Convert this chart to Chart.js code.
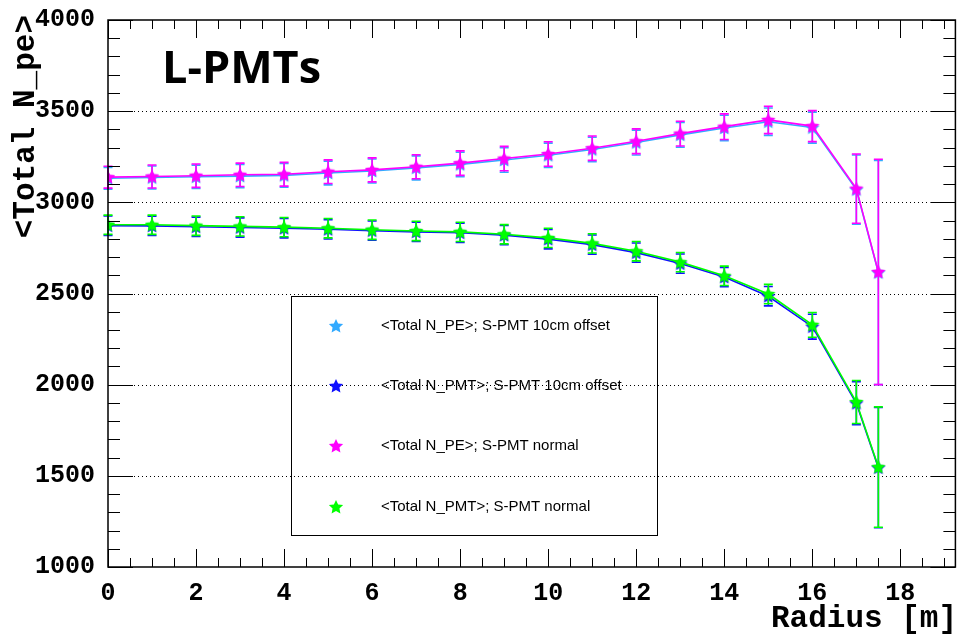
<!DOCTYPE html>
<html>
<head>
<meta charset="utf-8">
<script src="https://cdn.jsdelivr.net/npm/chart.js@4.4.1/dist/chart.umd.min.js"></script>
<style>
  html, body { margin: 0; padding: 0; background: #fff; }
  canvas { display: block; }
</style>
</head>
<body>
<canvas id="myChart" width="961" height="637"></canvas>
<script>
// radius points [m]
const radius = [0, 1, 2, 3, 4, 5, 6, 7, 8, 9, 10, 11, 12, 13, 14, 15, 16, 17, 17.5];

// <Total N_PE>, S-PMT 10cm offset
const peOffset = [3132, 3136, 3140, 3144, 3148, 3161, 3172, 3189, 3208, 3232, 3258, 3290, 3328, 3370, 3408, 3442, 3410, 3070, 2615];
const peOffsetErr = [60, 63, 64, 64, 65, 65, 66, 66, 67, 67, 67, 67, 68, 68, 70, 75, 85, 190, 615];
// <Total N_PMT>, S-PMT 10cm offset
const pmtOffset = [2872, 2871, 2866, 2862, 2858, 2852, 2845, 2838, 2833, 2820, 2798, 2768, 2724, 2664, 2590, 2485, 2318, 1898, 1545];
const pmtOffsetErr = [53, 53, 53, 53, 53, 53, 53, 53, 53, 53, 53, 53, 53, 53, 53, 53, 68, 118, 330];
// <Total N_PE>, S-PMT normal
const peNormal = [3138, 3142, 3146, 3151, 3154, 3168, 3178, 3195, 3215, 3240, 3265, 3297, 3335, 3377, 3415, 3452, 3418, 3075, 2618];
const peNormalErr = [60, 63, 64, 64, 65, 65, 66, 66, 67, 67, 67, 67, 68, 68, 70, 75, 85, 190, 618];
// <Total N_PMT>, S-PMT normal
const pmtNormal = [2877, 2877, 2872, 2868, 2864, 2858, 2850, 2843, 2838, 2825, 2805, 2775, 2732, 2672, 2597, 2497, 2328, 1905, 1548];
const pmtNormalErr = [53, 53, 53, 53, 53, 53, 53, 53, 53, 53, 53, 53, 53, 53, 53, 53, 68, 118, 330];

const seriesLabels = ['<Total N_PE>; S-PMT 10cm offset', '<Total N_PMT>; S-PMT 10cm offset',
                      '<Total N_PE>; S-PMT normal', '<Total N_PMT>; S-PMT normal'];
const seriesColors = ['#33aaff', '#1010ff', '#ff00ff', '#00ff00'];
const seriesValues = [peOffset, pmtOffset, peNormal, pmtNormal];
const seriesErrors = [peOffsetErr, pmtOffsetErr, peNormalErr, pmtNormalErr];

const xTickValues = [0, 2, 4, 6, 8, 10, 12, 14, 16, 18];
const yTickValues = [1000, 1500, 2000, 2500, 3000, 3500, 4000];
const yGridValues = [1500, 2000, 2500, 3000, 3500];

const monoFont = '"Liberation Mono", "DejaVu Sans Mono", monospace';

// filled 5 point star, like ROOT marker 29
function starImage(color) {
    const c = document.createElement('canvas');
    c.width = 16; c.height = 16;
    const g = c.getContext('2d');
    g.fillStyle = color;
    g.beginPath();
    for (let i = 0; i < 10; i++) {
        const r = i % 2 === 0 ? 7.5 : 3.6;
        const a = -Math.PI / 2 + i * Math.PI / 5;
        const px = 8 + r * Math.cos(a), py = 8.4 + r * Math.sin(a);
        if (i === 0) g.moveTo(px, py); else g.lineTo(px, py);
    }
    g.closePath();
    g.fill();
    return c;
}

const stars = seriesColors.map(starImage);

// error bars, drawn just before each dataset so the stacking follows the data
const errorBars = {
    id: 'errorBars',
    beforeDatasetDraw(chart, args) {
        const ds = chart.data.datasets[args.index];
        const y = chart.scales.y;
        const c = chart.ctx;
        c.save();
        c.strokeStyle = ds.borderColor;
        c.lineWidth = 1.6;
        args.meta.data.forEach((pt, i) => {
            const v = ds.data[i].y, e = ds.errors[i];
            const top = y.getPixelForValue(v + e), bot = y.getPixelForValue(v - e);
            c.beginPath();
            c.moveTo(pt.x, top); c.lineTo(pt.x, bot);
            c.moveTo(pt.x - 4.5, top); c.lineTo(pt.x + 4.5, top);
            c.moveTo(pt.x - 4.5, bot); c.lineTo(pt.x + 4.5, bot);
            c.stroke();
        });
        c.restore();
    }
};

// ROOT style frame, inward ticks and dotted grid
const rootFrame = {
    id: 'rootFrame',
    beforeDatasetsDraw(chart) {
        const { ctx: c, chartArea: a, scales: { y } } = chart;
        c.save();
        c.strokeStyle = '#000';
        c.lineWidth = 1;
        c.setLineDash([1, 3]);
        yGridValues.forEach(v => {
            const py = Math.round(y.getPixelForValue(v)) + 0.5;
            c.beginPath();
            c.moveTo(a.left + 26, py); c.lineTo(a.right - 27, py);
            c.stroke();
        });
        c.restore();
    },
    afterDatasetsDraw(chart) {
        const { ctx: c, chartArea: a, scales: { x, y } } = chart;
        c.save();
        c.strokeStyle = '#000';
        c.lineWidth = 1;
        c.beginPath();
        for (let v = 1000; v <= 4000; v += 100) {
            const py = Math.round(y.getPixelForValue(v)) + 0.5;
            const len = v % 500 === 0 ? 25 : 12;
            c.moveTo(a.left, py); c.lineTo(a.left + len, py);
            c.moveTo(a.right, py); c.lineTo(a.right - len, py);
        }
        for (let v = 0; v <= 19; v += 0.5) {
            const px = Math.round(x.getPixelForValue(v)) + 0.5;
            const len = v % 2 === 0 ? 18 : 9;
            c.moveTo(px, a.bottom); c.lineTo(px, a.bottom - len);
            c.moveTo(px, a.top); c.lineTo(px, a.top + len);
        }
        c.stroke();
        c.lineWidth = 1.5;
        c.strokeRect(a.left, a.top, a.right - a.left, a.bottom - a.top);
        c.restore();
    },
    afterDraw(chart) {
        const c = chart.ctx;
        c.save();
        c.fillStyle = '#000';
        // axis titles
        c.font = 'bold 31px ' + monoFont;
        c.textAlign = 'right';
        c.textBaseline = 'alphabetic';
        c.fillText('Radius [m]', 957, 627);
        c.translate(34, 15);
        c.rotate(-Math.PI / 2);
        c.fillText('<Total N_pe>', 0, 0);
        c.restore();

        c.save();
        c.fillStyle = '#000';
        c.font = 'bold 45px "Open Sans", "Noto Sans", sans-serif';
        c.textBaseline = 'alphabetic';
        c.fillText('L-PMTs', 162, 83);

        // legend box
        c.lineWidth = 1;
        c.strokeStyle = '#000';
        c.strokeRect(291.5, 296.5, 366, 239);
        c.font = '15px "Liberation Sans", Arial, sans-serif';
        c.textBaseline = 'middle';
        const rows = [326, 386, 446, 507];
        seriesLabels.forEach((lab, i) => {
            c.drawImage(stars[i], 336 - 8, rows[i] - 8);
            c.fillText(lab, 381, rows[i]);
        });
        c.restore();
    }
};

const ctx = document.getElementById('myChart').getContext('2d');

const myChart = new Chart(ctx, {
    type: 'line',
    data: {
        datasets: seriesLabels.map((lab, k) => ({
            label: lab,
            data: radius.map((r, i) => ({ x: r, y: seriesValues[k][i] })),
            errors: seriesErrors[k],
            borderColor: seriesColors[k],
            backgroundColor: seriesColors[k],
            borderWidth: 1.6,
            pointStyle: stars[k],
            tension: 0,
            fill: false,
            order: 4 - k
        }))
    },
    options: {
        responsive: false,
        animation: false,
        layout: { padding: { top: 17, right: 2, left: 0, bottom: 0 } },
        plugins: {
            legend: { display: false },
            tooltip: { enabled: false }
        },
        scales: {
            x: {
                type: 'linear',
                min: 0,
                max: 19.25,
                grid: { display: false },
                border: { display: false },
                afterBuildTicks: s => { s.ticks = xTickValues.map(v => ({ value: v })); },
                afterFit: s => { s.height = 70; },
                ticks: {
                    font: { family: monoFont, size: 25, weight: 'bold' },
                    color: '#000',
                    padding: 4,
                    maxRotation: 0,
                    autoSkip: false,
                    callback: v => String(v)
                }
            },
            y: {
                type: 'linear',
                min: 1000,
                max: 4000,
                grid: { display: false },
                border: { display: false },
                afterBuildTicks: s => { s.ticks = yTickValues.map(v => ({ value: v })); },
                afterFit: s => { s.width = 108; },
                ticks: {
                    font: { family: monoFont, size: 25, weight: 'bold' },
                    color: '#000',
                    padding: 5,
                    callback: v => String(v)
                }
            }
        }
    },
    plugins: [errorBars, rootFrame]
});
</script>
</body>
</html>
